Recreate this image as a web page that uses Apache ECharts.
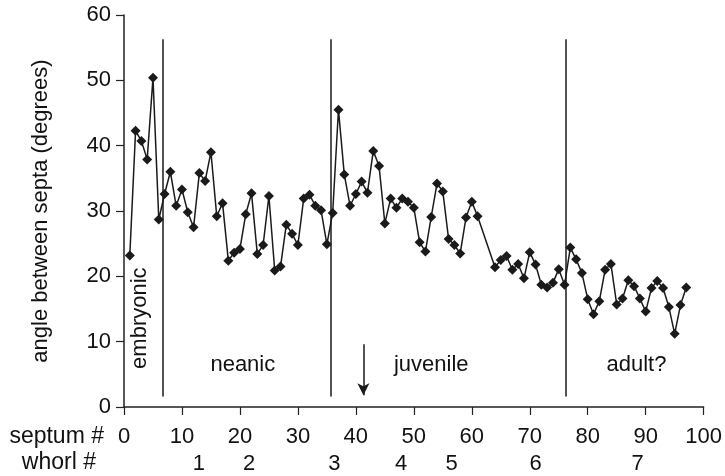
<!DOCTYPE html>
<html>
<head>
<meta charset="utf-8">
<script src="https://cdn.jsdelivr.net/npm/echarts@6/dist/echarts.min.js"></script>
<style>
html,body{margin:0;padding:0;background:#fff;}
#c{width:725px;height:476px;}
</style>
</head>
<body>
<div id="c"></div>
<script>
// ---- data ----
var septa = [1,2,3,4,5,6,7,8,9,10,11,12,13,14,15,16,17,18,19,20,
  21,22,23,24,25,26,27,28,29,30,31,32,33,34,35,36,37,38,39,40,
  41,42,43,44,45,46,47,48,49,50,51,52,53,54,55,56,57,58,59,60,61,
  64,65,66,67,68,69,70,71,72,73,74,75,76,77,78,79,80,
  81,82,83,84,85,86,87,88,89,90,91,92,93,94,95,96,97];
var angles = [23.2,42.3,40.7,37.9,50.4,28.7,32.6,36.0,30.8,33.3,
  29.8,27.5,35.8,34.6,39.0,29.2,31.2,22.4,23.6,24.2,
  29.5,32.7,23.4,24.8,32.3,20.9,21.5,27.9,26.5,24.8,
  31.9,32.5,30.8,30.1,24.9,29.7,45.5,35.6,30.8,32.6,
  34.5,32.8,39.2,36.9,28.1,31.9,30.5,31.9,31.4,30.5,
  25.2,23.8,29.1,34.2,33.0,25.7,24.8,23.5,29.0,31.4,29.2,
  21.4,22.5,23.1,21.0,21.9,19.7,23.7,21.8,18.7,18.3,19.0,21.1,18.7,24.4,22.6,20.5,16.5,
  14.2,16.2,21.0,21.9,15.7,16.6,19.4,18.5,16.6,14.6,18.2,19.3,18.2,15.3,11.2,15.6,18.3];
var stageBoundaries = [6.7, 35.7, 76.2];
var stageNames = ['embryonic','neanic','juvenile','adult?'];
var whorlPositions = [12.9, 21.6, 36.3, 47.8, 56.5, 71.0, 88.6];
var whorlLabels = ['1','2','3','4','5','6','7'];
var arrowSeptum = 41.3;
var yTicks = [0,10,20,30,40,50,60];
var xTicks = [0,10,20,30,40,50,60,70,80,90,100];

var FONT = 'Liberation Sans';
var TXT = '#111';
var FS = 22;
var FS_NAME = 23;

var pts = septa.map(function(s,i){return [s, angles[i]];});

var lines = stageBoundaries.map(function(b){
  return [{coord:[b,1.6]},{coord:[b,56.3]}];
});
lines.push([{coord:[arrowSeptum,9.6], symbol:'none'},{coord:[arrowSeptum,1.8], symbol:'arrow', symbolSize:[9,12]}]);

var stagePos = [[2.8,13.6],[20.5,6.4],[53,6.4],[88.4,6.4]];
var labelData = stageNames.map(function(n,i){
  var d = {name:n, value:stagePos[i]};
  if(i===0){ d.label = {rotate:90}; }
  return d;
});

var chart = echarts.init(document.getElementById('c'), null, {renderer:'canvas'});
chart.setOption({
  animation:false,
  backgroundColor:'#fff',
  textStyle:{fontFamily:FONT},
  grid:{left:124, right:17, top:15, bottom:69, containLabel:false},
  graphic:[
    {type:'text', right:621, top:425, silent:true,
     style:{text:'septum #', fill:TXT, font:FS_NAME+'px "'+FONT+'"', textAlign:'right'}},
    {type:'text', right:629, top:451, silent:true,
     style:{text:'whorl #', fill:TXT, font:FS_NAME+'px "'+FONT+'"', textAlign:'right'}}
  ],
  xAxis:[{
    type:'value', min:0, max:100, interval:10,
    axisLine:{show:true, onZero:false, lineStyle:{color:'#222', width:1.5}},
    axisTick:{show:true, length:8, lineStyle:{color:'#222', width:1.2}},
    splitLine:{show:false},
    axisLabel:{color:TXT, fontSize:FS, fontFamily:FONT, margin:19, showMaxLabel:true,
      formatter:function(v){return xTicks.indexOf(v)>=0 ? String(v) : '';}}
  },{
    type:'value', min:0, max:100, position:'bottom', offset:26,
    axisLine:{show:false}, axisTick:{show:false}, splitLine:{show:false},
    axisLabel:{color:TXT, fontSize:FS, fontFamily:FONT, margin:20,
      customValues:whorlPositions,
      formatter:function(v){var k=whorlPositions.indexOf(v); return k>=0?whorlLabels[k]:'';}}
  }],
  yAxis:{
    type:'value', min:0, max:60, interval:10,
    axisLine:{show:true, lineStyle:{color:'#222', width:1.5}},
    axisTick:{show:true, length:8, lineStyle:{color:'#222', width:1.2}},
    splitLine:{show:false},
    axisLabel:{color:TXT, fontSize:FS, fontFamily:FONT, margin:13,
      formatter:function(v){return yTicks.indexOf(v)>=0?String(v):'';}},
    name:'angle between septa (degrees)', nameLocation:'middle', nameGap:72,
    nameTextStyle:{color:TXT, fontSize:FS, fontFamily:FONT}
  },
  series:[{
    type:'line', data:pts, xAxisIndex:0,
    symbol:'diamond', symbolSize:10, showAllSymbol:true,
    lineStyle:{color:'#1a1a1a', width:1.5},
    itemStyle:{color:'#1a1a1a'},
    markLine:{
      silent:true, animation:false,
      symbol:['none','none'],
      label:{show:false},
      lineStyle:{color:'#1a1a1a', width:1.5, type:'solid', opacity:1},
      emphasis:{disabled:true},
      data:lines
    }
  },{
    type:'scatter', data:labelData, xAxisIndex:0, symbolSize:0, silent:true,
    itemStyle:{opacity:1},
    label:{show:true, position:'inside', formatter:'{b}', color:TXT, opacity:1, fontSize:FS, fontFamily:FONT}
  }]
});
</script>
</body>
</html>
